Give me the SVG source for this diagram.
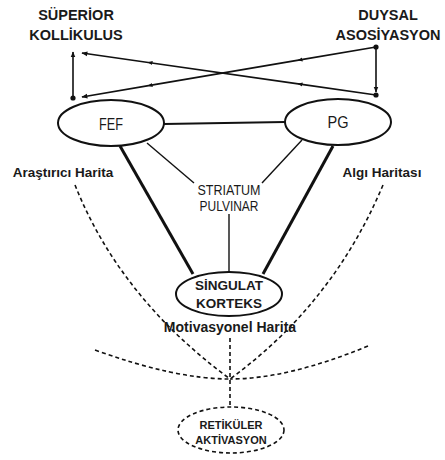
<svg xmlns="http://www.w3.org/2000/svg" width="445" height="460" viewBox="0 0 445 460">
<defs>
<style>
.t{font-family:"Liberation Sans",Arial,sans-serif;fill:#1a1a1a;text-anchor:middle}
.b{font-weight:bold}
.ln{stroke:#111;fill:none}
.ds{stroke:#111;fill:none;stroke-width:1.6;stroke-dasharray:4 3}
.el{fill:#fff;stroke:#111;stroke-width:2}
</style>
<marker id="ah" viewBox="0 0 10 10" refX="9" refY="5" markerWidth="6" markerHeight="6" orient="auto" markerUnits="userSpaceOnUse"><path d="M0,1 L10,5 L0,9 Z" fill="#111"/></marker>
<marker id="am" viewBox="0 0 10 10" refX="5" refY="5" markerWidth="5" markerHeight="5" orient="auto" markerUnits="userSpaceOnUse"><path d="M0,1 L10,5 L0,9 Z" fill="#111"/></marker>
</defs>
<rect width="445" height="460" fill="#fff"/>
<g id="connectors">
<polyline class="ln" stroke-width="1.6" points="376,47 300,59.9 150,85.4 82,97" marker-mid="url(#am)" marker-end="url(#ah)"/>
<polyline class="ln" stroke-width="1.6" points="376,95 300,84.1 150,62.7 82,53" marker-mid="url(#am)" marker-end="url(#ah)"/>
<line class="ln" stroke-width="1.6" x1="73" y1="98" x2="73" y2="52" marker-end="url(#ah)"/>
<line class="ln" stroke-width="1.6" x1="376" y1="47" x2="376" y2="92" marker-end="url(#ah)"/>
<circle cx="73" cy="98" r="2.6" fill="#111"/>
<circle cx="376" cy="47" r="2.6" fill="#111"/>
<circle cx="376" cy="95" r="2.6" fill="#111"/>
<line class="ln" stroke-width="2" x1="164" y1="124" x2="285" y2="122"/>
<line class="ln" stroke-width="1.4" x1="147" y1="143" x2="194" y2="183"/>
<line class="ln" stroke-width="1.4" x1="302" y1="140" x2="262" y2="183"/>
<line class="ln" stroke-width="1.4" x1="229" y1="214" x2="229" y2="272"/>
<line class="ln" stroke-width="3" x1="120" y1="146" x2="193" y2="274"/>
<line class="ln" stroke-width="3" x1="333" y1="146" x2="263" y2="274"/>
<path class="ds" d="M75,185 Q120,298 230,379"/>
<path class="ds" d="M383,185 Q333,304 230,379"/>
<path class="ds" d="M95,350 Q175,379 230,379"/>
<path class="ds" d="M368,346 Q288,379 230,379"/>
<line class="ds" x1="230" y1="338" x2="230" y2="406"/>
</g>
<g id="superior">
<text class="t b" x="76" y="20" font-size="14.5">SÜPERİOR</text>
<text class="t b" x="76" y="40" font-size="14.5">KOLLİKULUS</text>
</g>
<g id="duysal">
<text class="t b" x="388" y="20" font-size="14.5">DUYSAL</text>
<text class="t b" x="388" y="40" font-size="14.5">ASOSİYASYON</text>
</g>
<g id="fef">
<ellipse class="el" cx="111" cy="123" rx="53" ry="23"/>
<text class="t" x="111" y="130" font-size="17" textLength="24" lengthAdjust="spacingAndGlyphs">FEF</text>
</g>
<g id="pg">
<ellipse class="el" cx="338" cy="122" rx="53" ry="23"/>
<text class="t" x="338" y="128" font-size="16" textLength="21" lengthAdjust="spacingAndGlyphs">PG</text>
</g>
<g id="striatum">
<text class="t" x="229" y="195" font-size="14" textLength="63" lengthAdjust="spacingAndGlyphs">STRIATUM</text>
<text class="t" x="229" y="211" font-size="14" textLength="59" lengthAdjust="spacingAndGlyphs">PULVINAR</text>
</g>
<g id="arastirici">
<text class="t b" x="63" y="177" font-size="13.5">Araştırıcı Harita</text>
</g>
<g id="algi">
<text class="t b" x="382" y="177" font-size="13.5">Algı Haritası</text>
</g>
<g id="singulat">
<ellipse class="el" cx="229" cy="294" rx="53" ry="22"/>
<text class="t b" x="229" y="290" font-size="13.5">SİNGULAT</text>
<text class="t b" x="229" y="308" font-size="13.5">KORTEKS</text>
</g>
<g id="motivasyonel">
<text class="t b" x="230" y="332" font-size="14">Motivasyonel Harita</text>
</g>
<g id="retikuler">
<ellipse cx="231" cy="430" rx="53" ry="23" fill="#fff" stroke="#111" stroke-width="1.6" stroke-dasharray="4 3"/>
<text class="t b" x="231" y="429" font-size="11">RETİKÜLER</text>
<text class="t b" x="231" y="444" font-size="11">AKTİVASYON</text>
</g>
</svg>
